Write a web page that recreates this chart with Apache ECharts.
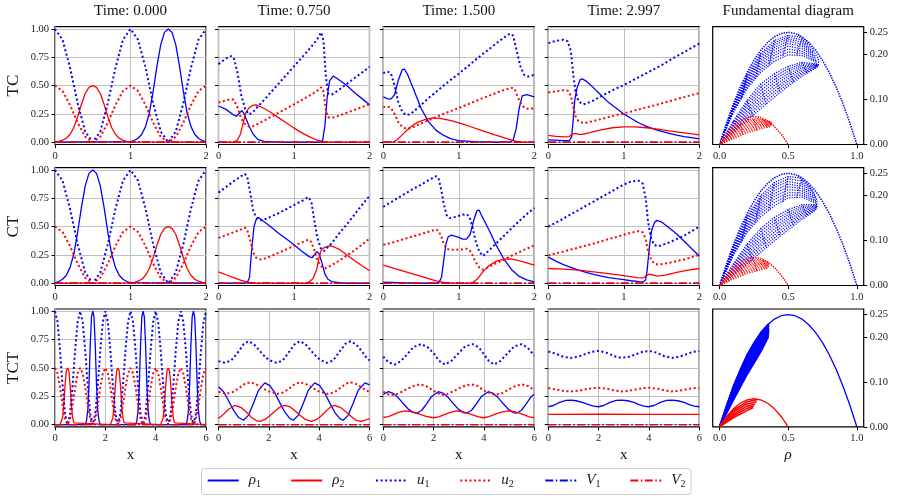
<!DOCTYPE html>
<html>
<head>
<meta charset="utf-8">
<script src="https://cdn.jsdelivr.net/npm/echarts@6/dist/echarts.min.js"></script>
<style>
  html, body { margin: 0; padding: 0; background: #fff; }
  #chart { width: 900px; height: 503px; }
</style>
</head>
<body>
<div id="chart"></div>
<script>
// ---- labels ----
const rowNames = ['TC', 'CT', 'TCT'];
const timeLabels = ['Time: 0.000', 'Time: 0.750', 'Time: 1.500', 'Time: 2.997'];
const fdTitle = 'Fundamental diagram';

// ---- TC / CT initial state (x in [0,2]) ----
const u0_1 = [[0,1],[0.1,0.905],[0.2,0.655],[0.3,0.345],[0.4,0.095],[0.5,0],[0.6,0.095],[0.7,0.345],[0.8,0.655],[0.9,0.905],
  [1,1],[1.1,0.905],[1.2,0.655],[1.3,0.345],[1.4,0.095],[1.5,0],[1.6,0.095],[1.7,0.345],[1.8,0.655],[1.9,0.905],[2,1]];
const u0_2 = [[0,0.5],[0.1,0.452],[0.2,0.327],[0.3,0.173],[0.4,0.048],[0.5,0],[0.6,0.048],[0.7,0.173],[0.8,0.327],[0.9,0.452],
  [1,0.5],[1.1,0.452],[1.2,0.327],[1.3,0.173],[1.4,0.048],[1.5,0],[1.6,0.048],[1.7,0.173],[1.8,0.327],[1.9,0.452],[2,0.5]];

const tc0_r1 = [[0,0],[1,0.005],[1.05,0.015],[1.1,0.035],[1.15,0.07],[1.2,0.14],[1.25,0.26],[1.3,0.45],[1.35,0.67],[1.4,0.86],[1.45,0.97],[1.5,1],
  [1.55,0.97],[1.6,0.86],[1.65,0.67],[1.7,0.45],[1.75,0.26],[1.8,0.14],[1.85,0.07],[1.9,0.035],[1.95,0.015],[2,0.005]];
const tc0_r2 = [[0,0.003],[0.05,0.008],[0.1,0.018],[0.15,0.035],[0.2,0.07],[0.25,0.13],[0.3,0.225],[0.35,0.335],[0.4,0.43],[0.45,0.485],[0.5,0.5],
  [0.55,0.485],[0.6,0.43],[0.65,0.335],[0.7,0.225],[0.75,0.13],[0.8,0.07],[0.85,0.035],[0.9,0.018],[0.95,0.008],[1,0.003],[2,0]];

const tc1_r1 = [[0,0.32],[0.1,0.29],[0.2,0.24],[0.24,0.23],[0.28,0.26],[0.31,0.28],[0.34,0.25],[0.4,0.15],[0.46,0.07],[0.52,0.025],[0.6,0.008],[0.8,0],
  [1.35,0],[1.38,0.02],[1.41,0.15],[1.44,0.4],[1.47,0.54],[1.52,0.585],[1.6,0.55],[1.7,0.5],[1.8,0.44],[1.9,0.385],[2,0.33]];
const tc1_r2 = [[0,0],[0.2,0],[0.25,0.02],[0.29,0.07],[0.33,0.18],[0.36,0.26],[0.4,0.3],[0.45,0.325],[0.5,0.33],[0.6,0.3],[0.7,0.26],[0.8,0.215],
  [0.9,0.17],[1,0.125],[1.1,0.085],[1.2,0.05],[1.3,0.02],[1.36,0.008],[1.42,0],[2,0]];
const tc1_u1 = [[0,0.69],[0.1,0.74],[0.17,0.76],[0.2,0.75],[0.25,0.62],[0.3,0.42],[0.35,0.3],[0.4,0.245],[0.45,0.26],[0.5,0.3],[0.6,0.37],[0.7,0.445],
  [0.8,0.52],[0.9,0.595],[1,0.67],[1.1,0.745],[1.2,0.82],[1.3,0.9],[1.36,0.97],[1.39,0.9],[1.42,0.6],[1.45,0.43],[1.5,0.42],[1.6,0.465],[1.7,0.515],
  [1.8,0.565],[1.9,0.615],[2,0.665]];
const tc1_u2 = [[0,0.35],[0.1,0.37],[0.17,0.38],[0.2,0.375],[0.25,0.31],[0.3,0.21],[0.35,0.16],[0.4,0.14],[0.45,0.14],[0.5,0.155],[0.6,0.19],[0.7,0.225],
  [0.8,0.262],[0.9,0.298],[1,0.335],[1.1,0.372],[1.2,0.41],[1.3,0.45],[1.36,0.485],[1.39,0.45],[1.42,0.3],[1.45,0.22],[1.5,0.215],[1.6,0.235],
  [1.7,0.26],[1.8,0.285],[1.9,0.31],[2,0.335]];

const tc2_r1 = [[0,0.4],[0.05,0.385],[0.1,0.38],[0.15,0.42],[0.2,0.55],[0.25,0.64],[0.28,0.645],[0.32,0.6],[0.4,0.47],[0.5,0.3],[0.6,0.18],[0.7,0.105],
  [0.8,0.06],[0.9,0.03],[1,0.015],[1.2,0.005],[1.5,0],[1.68,0],[1.72,0.02],[1.76,0.12],[1.8,0.3],[1.84,0.41],[1.9,0.42],[2,0.4]];
const tc2_r2 = [[0,0],[0.12,0],[0.18,0.02],[0.25,0.065],[0.35,0.13],[0.45,0.175],[0.55,0.2],[0.65,0.215],[0.75,0.21],[0.9,0.19],[1.1,0.15],[1.3,0.105],
  [1.5,0.06],[1.65,0.03],[1.75,0.01],[1.82,0],[2,0]];
const tc2_u1 = [[0,0.61],[0.05,0.625],[0.1,0.61],[0.15,0.5],[0.2,0.35],[0.25,0.27],[0.3,0.24],[0.35,0.245],[0.4,0.27],[0.5,0.33],[0.6,0.39],[0.7,0.445],
  [0.8,0.5],[0.9,0.555],[1,0.605],[1.1,0.66],[1.2,0.715],[1.3,0.77],[1.4,0.82],[1.5,0.875],[1.6,0.925],[1.68,0.96],[1.72,0.94],[1.77,0.8],
  [1.82,0.66],[1.87,0.59],[1.92,0.58],[2,0.595]];
const tc2_u2 = [[0,0.31],[0.05,0.315],[0.1,0.305],[0.15,0.25],[0.2,0.175],[0.25,0.135],[0.3,0.12],[0.35,0.122],[0.4,0.135],[0.5,0.165],[0.6,0.195],
  [0.7,0.222],[0.8,0.25],[0.9,0.277],[1,0.302],[1.1,0.33],[1.2,0.357],[1.3,0.385],[1.4,0.41],[1.5,0.437],[1.6,0.462],[1.7,0.48],[1.74,0.47],
  [1.78,0.4],[1.83,0.33],[1.88,0.3],[1.93,0.295],[2,0.3]];

const tc3_r1 = [[0,0.02],[0.1,0.018],[0.2,0.015],[0.28,0.015],[0.31,0.05],[0.33,0.2],[0.35,0.37],[0.38,0.48],[0.42,0.55],[0.45,0.56],[0.5,0.54],
  [0.6,0.48],[0.7,0.415],[0.8,0.35],[0.9,0.3],[1,0.25],[1.1,0.21],[1.2,0.17],[1.3,0.14],[1.4,0.115],[1.5,0.095],[1.6,0.078],[1.7,0.063],
  [1.8,0.05],[1.9,0.04],[2,0.03]];
const tc3_r2 = [[0,0.06],[0.1,0.052],[0.2,0.048],[0.28,0.05],[0.31,0.07],[0.33,0.08],[0.36,0.078],[0.4,0.07],[0.45,0.07],[0.55,0.085],[0.7,0.11],
  [0.85,0.128],[1,0.135],[1.15,0.135],[1.3,0.128],[1.45,0.115],[1.6,0.1],[1.8,0.083],[2,0.065]];
const tc3_u1 = [[0,0.875],[0.1,0.895],[0.2,0.905],[0.26,0.89],[0.3,0.8],[0.33,0.6],[0.36,0.45],[0.4,0.36],[0.46,0.335],[0.5,0.34],[0.6,0.37],
  [0.7,0.405],[0.8,0.44],[0.9,0.475],[1,0.505],[1.1,0.54],[1.2,0.575],[1.3,0.61],[1.4,0.645],[1.5,0.68],[1.6,0.72],[1.7,0.76],[1.8,0.795],
  [1.9,0.835],[2,0.87]];
const tc3_u2 = [[0,0.44],[0.1,0.45],[0.2,0.46],[0.26,0.455],[0.3,0.41],[0.33,0.31],[0.36,0.23],[0.4,0.185],[0.46,0.17],[0.5,0.172],[0.6,0.188],
  [0.7,0.205],[0.8,0.222],[0.9,0.24],[1,0.255],[1.1,0.272],[1.2,0.29],[1.3,0.308],[1.4,0.325],[1.5,0.343],[1.6,0.362],[1.7,0.38],[1.8,0.398],
  [1.9,0.417],[2,0.435]];

// ---- CT ----
const ct0_r1 = [[0,0.005],[0.05,0.015],[0.1,0.035],[0.15,0.07],[0.2,0.14],[0.25,0.26],[0.3,0.45],[0.35,0.67],[0.4,0.86],[0.45,0.97],[0.5,1],
  [0.55,0.97],[0.6,0.86],[0.65,0.67],[0.7,0.45],[0.75,0.26],[0.8,0.14],[0.85,0.07],[0.9,0.035],[0.95,0.015],[1,0.005],[2,0]];
const ct0_r2 = [[0,0],[1,0.003],[1.05,0.008],[1.1,0.018],[1.15,0.035],[1.2,0.07],[1.25,0.13],[1.3,0.225],[1.35,0.335],[1.4,0.43],[1.45,0.485],[1.5,0.5],
  [1.55,0.485],[1.6,0.43],[1.65,0.335],[1.7,0.225],[1.75,0.13],[1.8,0.07],[1.85,0.035],[1.9,0.018],[1.95,0.008],[2,0.003]];

const ct1_r1 = [[0,0],[0.35,0],[0.38,0.005],[0.41,0.05],[0.44,0.3],[0.47,0.5],[0.5,0.565],[0.53,0.58],[0.6,0.545],[0.7,0.495],[0.8,0.44],[0.9,0.39],
  [1,0.34],[1.1,0.285],[1.2,0.235],[1.24,0.225],[1.28,0.26],[1.3,0.28],[1.33,0.265],[1.37,0.18],[1.41,0.08],[1.45,0.035],[1.5,0.015],[1.6,0.005],
  [1.7,0],[2,0]];
const ct1_r2 = [[0,0.1],[0.1,0.075],[0.2,0.05],[0.3,0.025],[0.4,0.008],[0.5,0],[1.15,0],[1.2,0.01],[1.25,0.04],[1.3,0.12],[1.33,0.22],[1.36,0.29],
  [1.4,0.315],[1.47,0.33],[1.5,0.328],[1.6,0.3],[1.7,0.25],[1.8,0.2],[1.9,0.155],[2,0.11]];
const ct1_u1 = [[0,0.8],[0.1,0.85],[0.2,0.9],[0.3,0.945],[0.35,0.965],[0.38,0.94],[0.42,0.8],[0.46,0.64],[0.5,0.58],[0.55,0.555],[0.6,0.56],[0.7,0.59],
  [0.8,0.62],[0.9,0.655],[1,0.69],[1.1,0.725],[1.19,0.76],[1.23,0.72],[1.27,0.55],[1.31,0.4],[1.36,0.3],[1.4,0.285],[1.5,0.355],[1.6,0.44],
  [1.7,0.52],[1.8,0.605],[1.9,0.69],[2,0.77]];
const ct1_u2 = [[0,0.4],[0.1,0.425],[0.2,0.45],[0.3,0.475],[0.35,0.49],[0.38,0.47],[0.42,0.38],[0.46,0.27],[0.5,0.225],[0.55,0.21],[0.6,0.215],
  [0.7,0.24],[0.8,0.27],[0.9,0.3],[1,0.33],[1.1,0.36],[1.19,0.385],[1.23,0.365],[1.27,0.29],[1.31,0.2],[1.36,0.15],[1.41,0.13],[1.5,0.16],
  [1.6,0.2],[1.7,0.245],[1.8,0.29],[1.9,0.34],[2,0.395]];

const ct2_r1 = [[0,0.01],[0.2,0.005],[0.5,0],[0.7,0],[0.74,0.01],[0.77,0.05],[0.8,0.2],[0.83,0.35],[0.86,0.41],[0.9,0.425],[1,0.405],[1.05,0.39],
  [1.1,0.39],[1.15,0.43],[1.2,0.56],[1.24,0.64],[1.27,0.645],[1.3,0.6],[1.4,0.47],[1.5,0.33],[1.6,0.21],[1.7,0.12],[1.8,0.06],[1.9,0.03],[2,0.012]];
const ct2_r2 = [[0,0.16],[0.1,0.14],[0.2,0.12],[0.3,0.1],[0.4,0.08],[0.5,0.06],[0.6,0.04],[0.7,0.02],[0.8,0.008],[0.9,0.002],[1.1,0],[1.18,0.005],
  [1.25,0.04],[1.32,0.1],[1.4,0.155],[1.5,0.195],[1.6,0.212],[1.68,0.215],[1.8,0.2],[1.9,0.18],[2,0.16]];
const ct2_u1 = [[0,0.675],[0.1,0.715],[0.2,0.755],[0.3,0.795],[0.4,0.835],[0.5,0.87],[0.6,0.91],[0.7,0.945],[0.73,0.93],[0.77,0.82],[0.8,0.7],
  [0.84,0.6],[0.88,0.575],[0.95,0.585],[1.05,0.605],[1.1,0.61],[1.14,0.59],[1.18,0.5],[1.22,0.38],[1.27,0.28],[1.32,0.24],[1.4,0.29],[1.5,0.355],
  [1.6,0.42],[1.7,0.485],[1.8,0.55],[1.9,0.61],[2,0.665]];
const ct2_u2 = [[0,0.34],[0.1,0.355],[0.2,0.375],[0.3,0.395],[0.4,0.415],[0.5,0.435],[0.6,0.455],[0.7,0.475],[0.73,0.465],[0.77,0.41],[0.8,0.35],
  [0.84,0.305],[0.88,0.295],[0.95,0.295],[1.05,0.3],[1.1,0.305],[1.14,0.295],[1.18,0.25],[1.22,0.19],[1.27,0.14],[1.32,0.12],[1.4,0.145],
  [1.5,0.178],[1.6,0.21],[1.7,0.243],[1.8,0.275],[1.9,0.305],[2,0.335]];

const ct3_r1 = [[0,0.23],[0.1,0.195],[0.2,0.165],[0.3,0.14],[0.4,0.115],[0.5,0.095],[0.6,0.078],[0.7,0.062],[0.8,0.05],[0.9,0.04],[1,0.032],
  [1.1,0.022],[1.2,0.015],[1.26,0.012],[1.29,0.03],[1.31,0.12],[1.34,0.33],[1.37,0.47],[1.41,0.54],[1.44,0.555],[1.5,0.54],[1.6,0.49],[1.7,0.435],
  [1.8,0.37],[1.9,0.305],[2,0.24]];
const ct3_r2 = [[0,0.13],[0.2,0.125],[0.4,0.115],[0.6,0.1],[0.8,0.085],[1,0.068],[1.17,0.05],[1.26,0.048],[1.3,0.065],[1.33,0.08],[1.37,0.075],
  [1.44,0.062],[1.55,0.072],[1.7,0.095],[1.85,0.115],[2,0.13]];
const ct3_u1 = [[0,0.5],[0.1,0.535],[0.2,0.57],[0.3,0.61],[0.4,0.645],[0.5,0.685],[0.6,0.72],[0.7,0.76],[0.8,0.795],[0.9,0.835],[1,0.87],[1.1,0.9],
  [1.2,0.905],[1.25,0.88],[1.29,0.75],[1.32,0.55],[1.36,0.4],[1.4,0.34],[1.45,0.325],[1.5,0.335],[1.6,0.36],[1.7,0.39],[1.8,0.42],[1.9,0.46],[2,0.5]];
const ct3_u2 = [[0,0.245],[0.1,0.263],[0.2,0.28],[0.3,0.298],[0.4,0.315],[0.5,0.333],[0.6,0.35],[0.7,0.37],[0.8,0.39],[0.9,0.408],[1,0.428],
  [1.1,0.447],[1.2,0.46],[1.25,0.45],[1.29,0.39],[1.32,0.29],[1.36,0.21],[1.4,0.175],[1.45,0.165],[1.5,0.168],[1.6,0.18],[1.7,0.195],[1.8,0.21],
  [1.9,0.23],[2,0.25]];

// ---- TCT (x in [0,6]) ----
const tct0_r1 = [[0,0],[1.2,0],[1.25,0.03],[1.3,0.12],[1.35,0.35],[1.4,0.7],[1.45,0.95],[1.5,1],[1.55,0.95],[1.6,0.7],[1.65,0.35],[1.7,0.12],[1.75,0.03],[1.8,0],
  [3.2,0],[3.25,0.03],[3.3,0.12],[3.35,0.35],[3.4,0.7],[3.45,0.95],[3.5,1],[3.55,0.95],[3.6,0.7],[3.65,0.35],[3.7,0.12],[3.75,0.03],[3.8,0],
  [5.2,0],[5.25,0.03],[5.3,0.12],[5.35,0.35],[5.4,0.7],[5.45,0.95],[5.5,1],[5.55,0.95],[5.6,0.7],[5.65,0.35],[5.7,0.12],[5.75,0.03],[5.8,0],[6,0]];
const tct0_r2 = [[0,0],[0.2,0],[0.25,0.015],[0.3,0.06],[0.35,0.175],[0.4,0.35],[0.45,0.475],[0.5,0.5],[0.55,0.475],[0.6,0.35],[0.65,0.175],[0.7,0.06],[0.75,0.015],[0.8,0],
  [2.2,0],[2.25,0.015],[2.3,0.06],[2.35,0.175],[2.4,0.35],[2.45,0.475],[2.5,0.5],[2.55,0.475],[2.6,0.35],[2.65,0.175],[2.7,0.06],[2.75,0.015],[2.8,0],
  [4.2,0],[4.25,0.015],[4.3,0.06],[4.35,0.175],[4.4,0.35],[4.45,0.475],[4.5,0.5],[4.55,0.475],[4.6,0.35],[4.65,0.175],[4.7,0.06],[4.75,0.015],[4.8,0],[6,0]];
const tct0_u1 = [[0,1],[0.1,0.905],[0.2,0.655],[0.3,0.345],[0.4,0.095],[0.5,0],[0.6,0.095],[0.7,0.345],[0.8,0.655],[0.9,0.905],
  [1,1],[1.1,0.905],[1.2,0.655],[1.3,0.345],[1.4,0.095],[1.5,0],[1.6,0.095],[1.7,0.345],[1.8,0.655],[1.9,0.905],
  [2,1],[2.1,0.905],[2.2,0.655],[2.3,0.345],[2.4,0.095],[2.5,0],[2.6,0.095],[2.7,0.345],[2.8,0.655],[2.9,0.905],
  [3,1],[3.1,0.905],[3.2,0.655],[3.3,0.345],[3.4,0.095],[3.5,0],[3.6,0.095],[3.7,0.345],[3.8,0.655],[3.9,0.905],
  [4,1],[4.1,0.905],[4.2,0.655],[4.3,0.345],[4.4,0.095],[4.5,0],[4.6,0.095],[4.7,0.345],[4.8,0.655],[4.9,0.905],
  [5,1],[5.1,0.905],[5.2,0.655],[5.3,0.345],[5.4,0.095],[5.5,0],[5.6,0.095],[5.7,0.345],[5.8,0.655],[5.9,0.905],[6,1]];
const tct0_u2 = [[0,0.5],[0.1,0.452],[0.2,0.327],[0.3,0.173],[0.4,0.048],[0.5,0],[0.6,0.048],[0.7,0.173],[0.8,0.327],[0.9,0.452],
  [1,0.5],[1.1,0.452],[1.2,0.327],[1.3,0.173],[1.4,0.048],[1.5,0],[1.6,0.048],[1.7,0.173],[1.8,0.327],[1.9,0.452],
  [2,0.5],[2.1,0.452],[2.2,0.327],[2.3,0.173],[2.4,0.048],[2.5,0],[2.6,0.048],[2.7,0.173],[2.8,0.327],[2.9,0.452],
  [3,0.5],[3.1,0.452],[3.2,0.327],[3.3,0.173],[3.4,0.048],[3.5,0],[3.6,0.048],[3.7,0.173],[3.8,0.327],[3.9,0.452],
  [4,0.5],[4.1,0.452],[4.2,0.327],[4.3,0.173],[4.4,0.048],[4.5,0],[4.6,0.048],[4.7,0.173],[4.8,0.327],[4.9,0.452],
  [5,0.5],[5.1,0.452],[5.2,0.327],[5.3,0.173],[5.4,0.048],[5.5,0],[5.6,0.048],[5.7,0.173],[5.8,0.327],[5.9,0.452],[6,0.5]];

const tct1_r1 = [[0,0.333],[0.2,0.29],[0.4,0.21],[0.6,0.125],[0.8,0.062],[0.99,0.038],[1.19,0.081],[1.39,0.187],[1.59,0.302],[1.84,0.368],
  [2.04,0.344],[2.24,0.279],[2.44,0.191],[2.64,0.108],[2.84,0.052],[2.97,0.038],[3.17,0.081],[3.37,0.187],[3.57,0.302],[3.82,0.368],
  [4.02,0.344],[4.22,0.279],[4.42,0.191],[4.62,0.108],[4.82,0.052],[4.95,0.038],[5.15,0.081],[5.35,0.187],[5.55,0.302],[5.82,0.368],[6,0.35]];
const tct1_r2 = [[0,0.053],[0.2,0.09],[0.4,0.135],[0.66,0.17],[0.9,0.15],[1.1,0.11],[1.3,0.065],[1.5,0.035],[1.65,0.027],[1.85,0.045],[2.05,0.08],
  [2.25,0.12],[2.45,0.155],[2.64,0.17],[2.85,0.155],[3.05,0.12],[3.25,0.08],[3.45,0.045],[3.69,0.027],[3.9,0.045],[4.1,0.08],[4.3,0.125],
  [4.45,0.155],[4.62,0.17],[4.85,0.15],[5.05,0.115],[5.25,0.075],[5.45,0.04],[5.66,0.027],[5.85,0.04],[6,0.052]];
const tct1_u1 = [[0,0.56],[0.25,0.545],[0.5,0.565],[0.75,0.63],[1,0.71],[1.2,0.735],[1.4,0.71],[1.6,0.66],[1.8,0.61],[2,0.57],[2.3,0.545],
  [2.55,0.565],[2.8,0.64],[3.05,0.715],[3.25,0.735],[3.45,0.71],[3.65,0.66],[3.85,0.61],[4.05,0.57],[4.3,0.545],[4.55,0.565],[4.8,0.64],
  [5.05,0.715],[5.25,0.735],[5.45,0.71],[5.65,0.66],[5.85,0.6],[6,0.565]];
const tct1_u2 = [[0,0.29],[0.3,0.272],[0.55,0.285],[0.8,0.32],[1.05,0.36],[1.25,0.373],[1.45,0.36],[1.7,0.33],[1.95,0.295],[2.35,0.27],[2.6,0.285],
  [2.85,0.325],[3.05,0.36],[3.25,0.373],[3.45,0.36],[3.7,0.33],[3.95,0.295],[4.35,0.27],[4.6,0.285],[4.85,0.325],[5.05,0.36],[5.25,0.373],
  [5.45,0.36],[5.7,0.325],[6,0.285]];

const tct2_r1 = [[0,0.265],[0.2,0.29],[0.4,0.275],[0.6,0.236],[0.8,0.183],[1,0.134],[1.2,0.105],[1.32,0.1],[1.52,0.124],[1.72,0.183],[1.92,0.248],
  [2.19,0.29],[2.39,0.275],[2.59,0.236],[2.79,0.183],[2.99,0.134],[3.19,0.105],[3.3,0.1],[3.5,0.124],[3.7,0.183],[3.9,0.248],[4.17,0.29],
  [4.37,0.275],[4.57,0.236],[4.77,0.183],[4.97,0.134],[5.17,0.105],[5.28,0.1],[5.48,0.124],[5.68,0.183],[5.88,0.248],[6,0.265]];
const tct2_r2 = [[0,0.062],[0.2,0.07],[0.4,0.088],[0.6,0.107],[0.86,0.12],[1.1,0.115],[1.3,0.103],[1.5,0.088],[1.7,0.073],[1.99,0.06],[2.2,0.068],
  [2.4,0.085],[2.6,0.103],[2.91,0.12],[3.15,0.113],[3.35,0.1],[3.55,0.085],[3.75,0.07],[3.97,0.06],[4.2,0.07],[4.4,0.087],[4.65,0.107],
  [4.97,0.12],[5.2,0.113],[5.4,0.1],[5.6,0.085],[5.8,0.068],[6,0.06]];
const tct2_u1 = [[0,0.6],[0.2,0.55],[0.45,0.53],[0.7,0.56],[0.95,0.62],[1.2,0.685],[1.5,0.71],[1.75,0.685],[2,0.63],[2.2,0.565],[2.45,0.53],
  [2.7,0.56],[2.95,0.62],[3.25,0.69],[3.55,0.71],[3.8,0.68],[4,0.62],[4.2,0.56],[4.4,0.53],[4.65,0.56],[4.9,0.62],[5.2,0.69],[5.5,0.71],
  [5.75,0.675],[6,0.61]];
const tct2_u2 = [[0,0.29],[0.25,0.26],[0.5,0.265],[0.75,0.29],[1,0.32],[1.25,0.345],[1.47,0.355],[1.7,0.34],[1.95,0.305],[2.3,0.26],[2.55,0.27],
  [2.8,0.295],[3.05,0.325],[3.3,0.348],[3.5,0.355],[3.75,0.34],[4,0.3],[4.43,0.26],[4.7,0.275],[4.95,0.305],[5.2,0.335],[5.5,0.355],
  [5.75,0.34],[6,0.305]];

const tct3_r1 = [[0,0.157],[0.2,0.168],[0.45,0.195],[0.7,0.213],[0.9,0.216],[1.1,0.21],[1.35,0.195],[1.6,0.175],[1.8,0.162],[2,0.157],[2.2,0.168],
  [2.45,0.195],[2.7,0.213],[2.92,0.216],[3.15,0.21],[3.4,0.195],[3.6,0.175],[3.8,0.162],[3.98,0.157],[4.2,0.168],[4.45,0.195],[4.7,0.213],
  [4.91,0.216],[5.15,0.21],[5.4,0.195],[5.6,0.175],[5.8,0.162],[6,0.157]];
const tct3_r2 = [[0,0.09],[2,0.091],[4,0.09],[6,0.09]];
const tct3_u1 = [[0,0.645],[0.3,0.625],[0.6,0.598],[0.88,0.588],[1.2,0.6],[1.5,0.625],[1.75,0.643],[2,0.65],[2.3,0.635],[2.6,0.605],[2.9,0.588],
  [3.2,0.598],[3.5,0.622],[3.75,0.642],[4,0.65],[4.3,0.635],[4.6,0.605],[4.9,0.588],[5.2,0.598],[5.5,0.622],[5.75,0.642],[6,0.648]];
const tct3_u2 = [[0,0.322],[0.3,0.31],[0.6,0.297],[0.88,0.292],[1.2,0.298],[1.5,0.312],[1.75,0.321],[2,0.325],[2.3,0.317],[2.6,0.302],[2.9,0.292],
  [3.2,0.298],[3.5,0.311],[3.75,0.321],[4,0.325],[4.3,0.317],[4.6,0.302],[4.9,0.292],[5.2,0.298],[5.5,0.311],[5.75,0.321],[6,0.324]];

// V1 and V2 stay at zero
const v_short = [[0,0],[2,0]];
const v_long = [[0,0],[6,0]];

// ---- fundamental diagram: (rho, flux) traces ----
const fdOuter1 = [[0,0],[0.05,0.0475],[0.1,0.09],[0.15,0.1275],[0.2,0.16],[0.25,0.1875],[0.3,0.21],[0.35,0.2275],[0.4,0.24],[0.45,0.2475],[0.5,0.25],
  [0.55,0.2475],[0.6,0.24],[0.65,0.2275],[0.7,0.21],[0.75,0.1875],[0.8,0.16],[0.85,0.1275],[0.9,0.09],[0.95,0.0475],[1,0]];
const fdOuter2 = [[0,0],[0.05,0.0225],[0.1,0.04],[0.15,0.0525],[0.2,0.06],[0.25,0.0625],[0.3,0.06],[0.35,0.0525],[0.4,0.04],[0.45,0.0225],[0.5,0]];

const fdTC_blue = [
  [[0,0],[0.1,0.087],[0.2,0.155],[0.3,0.203],[0.4,0.232],[0.5,0.243],[0.58,0.24],[0.65,0.222]],
  [[0,0],[0.1,0.085],[0.2,0.151],[0.3,0.198],[0.4,0.227],[0.5,0.239],[0.59,0.234],[0.665,0.215]],
  [[0,0],[0.1,0.083],[0.2,0.147],[0.3,0.193],[0.4,0.222],[0.5,0.235],[0.6,0.228],[0.68,0.207]],
  [[0,0],[0.1,0.081],[0.2,0.1435],[0.3,0.188],[0.4,0.2165],[0.5,0.23],[0.6,0.2235],[0.69,0.2015]],
  [[0,0],[0.1,0.079],[0.2,0.14],[0.3,0.183],[0.4,0.211],[0.5,0.225],[0.6,0.219],[0.7,0.196]],
  [[0,0],[0.1,0.077],[0.2,0.136],[0.3,0.1775],[0.4,0.205],[0.5,0.219],[0.6,0.2135],[0.705,0.192]],
  [[0,0],[0.1,0.075],[0.2,0.132],[0.3,0.172],[0.4,0.199],[0.5,0.213],[0.6,0.208],[0.71,0.188]],
  [[0,0],[0.1,0.073],[0.2,0.128],[0.3,0.1665],[0.4,0.1925],[0.5,0.2065],[0.6,0.203],[0.71,0.1855]],
  [[0,0],[0.1,0.071],[0.2,0.124],[0.3,0.161],[0.4,0.186],[0.5,0.2],[0.6,0.198],[0.71,0.183]],
  [[0,0],[0.1,0.052],[0.2,0.098],[0.3,0.135],[0.4,0.158],[0.5,0.174],[0.6,0.183],[0.71,0.18]],
  [[0,0],[0.1,0.0485],[0.2,0.0925],[0.3,0.1275],[0.4,0.1515],[0.5,0.1685],[0.6,0.1795],[0.715,0.179]],
  [[0,0],[0.1,0.045],[0.2,0.087],[0.3,0.12],[0.4,0.145],[0.5,0.163],[0.6,0.176],[0.72,0.178]],
  [[0,0],[0.1,0.0415],[0.2,0.081],[0.3,0.113],[0.4,0.1385],[0.5,0.1575],[0.6,0.172],[0.72,0.1775]],
  [[0,0],[0.1,0.038],[0.2,0.075],[0.3,0.106],[0.4,0.132],[0.5,0.152],[0.6,0.168],[0.72,0.177]],
  [[0,0],[0.1,0.035],[0.2,0.0695],[0.3,0.0995],[0.4,0.1255],[0.5,0.1465],[0.6,0.164],[0.72,0.176]],
  [[0,0],[0.1,0.032],[0.2,0.064],[0.3,0.093],[0.4,0.119],[0.5,0.141],[0.6,0.16],[0.72,0.175]],
  [[0,0],[0.1,0.029],[0.2,0.0585],[0.3,0.0865],[0.4,0.1125],[0.5,0.1355],[0.6,0.156],[0.715,0.1735]],
  [[0,0],[0.1,0.026],[0.2,0.053],[0.3,0.08],[0.4,0.106],[0.5,0.13],[0.6,0.152],[0.71,0.172]],
  [[0.1,0.087],[0.09,0.071],[0.08,0.057]], [[0.2,0.155],[0.18,0.128],[0.16,0.103]],
  [[0.3,0.203],[0.28,0.174],[0.26,0.146]], [[0.4,0.232],[0.38,0.205],[0.36,0.176]],
  [[0.5,0.243],[0.48,0.222],[0.46,0.194]], [[0.6,0.235],[0.58,0.22],[0.56,0.199]],
  [[0.1,0.052],[0.12,0.045],[0.14,0.037]], [[0.2,0.098],[0.22,0.081],[0.24,0.064]],
  [[0.3,0.135],[0.32,0.111],[0.34,0.09]], [[0.4,0.158],[0.42,0.136],[0.44,0.116]],
  [[0.5,0.174],[0.52,0.155],[0.54,0.139]], [[0.6,0.183],[0.62,0.17],[0.64,0.159]],
  [[0.57,0.245],[0.63,0.232],[0.68,0.212],[0.72,0.19],[0.72,0.176]]
];
const fdTC_red = [
  [[0,0],[0.1,0.037],[0.2,0.055],[0.28,0.058],[0.38,0.05]],
  [[0,0],[0.1,0.034],[0.2,0.052],[0.3,0.0555],[0.38,0.0485]],
  [[0,0],[0.1,0.031],[0.2,0.049],[0.3,0.053],[0.38,0.047]],
  [[0,0],[0.1,0.028],[0.2,0.0455],[0.3,0.0505],[0.38,0.046]],
  [[0,0],[0.1,0.025],[0.2,0.042],[0.3,0.048],[0.38,0.045]],
  [[0,0],[0.1,0.022],[0.2,0.038],[0.3,0.045],[0.38,0.044]],
  [[0,0],[0.1,0.019],[0.2,0.034],[0.3,0.042],[0.38,0.043]],
  [[0,0],[0.1,0.016],[0.2,0.03],[0.3,0.0385],[0.375,0.0415]],
  [[0,0],[0.1,0.013],[0.2,0.026],[0.3,0.035],[0.37,0.04]],
  [[0.15,0.046],[0.16,0.035],[0.17,0.022]], [[0.25,0.0565],[0.26,0.0456],[0.27,0.032]],
  [[0.33,0.0556],[0.34,0.0468],[0.35,0.0385]]
];
const fdCT_blue = [
  [[0,0],[0.1,0.087],[0.2,0.154],[0.3,0.2],[0.4,0.23],[0.5,0.243],[0.58,0.24],[0.66,0.22]],
  [[0,0],[0.1,0.0845],[0.2,0.1495],[0.3,0.1945],[0.4,0.224],[0.5,0.2375],[0.59,0.233],[0.675,0.2125]],
  [[0,0],[0.1,0.082],[0.2,0.145],[0.3,0.189],[0.4,0.218],[0.5,0.232],[0.6,0.226],[0.69,0.205]],
  [[0,0],[0.1,0.0795],[0.2,0.1405],[0.3,0.183],[0.4,0.2115],[0.5,0.226],[0.6,0.221],[0.695,0.2]],
  [[0,0],[0.1,0.077],[0.2,0.136],[0.3,0.177],[0.4,0.205],[0.5,0.22],[0.6,0.216],[0.7,0.195]],
  [[0,0],[0.1,0.0745],[0.2,0.1315],[0.3,0.171],[0.4,0.1985],[0.5,0.2135],[0.6,0.211],[0.705,0.191]],
  [[0,0],[0.1,0.072],[0.2,0.127],[0.3,0.165],[0.4,0.192],[0.5,0.207],[0.6,0.206],[0.71,0.187]],
  [[0,0],[0.1,0.0695],[0.2,0.1225],[0.3,0.159],[0.4,0.185],[0.5,0.201],[0.6,0.2015],[0.71,0.1845]],
  [[0,0],[0.1,0.067],[0.2,0.118],[0.3,0.153],[0.4,0.178],[0.5,0.195],[0.6,0.197],[0.71,0.182]],
  [[0,0],[0.1,0.048],[0.2,0.092],[0.3,0.127],[0.4,0.152],[0.5,0.169],[0.6,0.18],[0.71,0.18]],
  [[0,0],[0.1,0.0445],[0.2,0.086],[0.3,0.12],[0.4,0.1455],[0.5,0.1635],[0.6,0.176],[0.71,0.179]],
  [[0,0],[0.1,0.041],[0.2,0.08],[0.3,0.113],[0.4,0.139],[0.5,0.158],[0.6,0.172],[0.71,0.178]],
  [[0,0],[0.1,0.038],[0.2,0.0745],[0.3,0.1065],[0.4,0.1325],[0.5,0.1525],[0.6,0.168],[0.71,0.1765]],
  [[0,0],[0.1,0.035],[0.2,0.069],[0.3,0.1],[0.4,0.126],[0.5,0.147],[0.6,0.164],[0.71,0.175]],
  [[0,0],[0.1,0.032],[0.2,0.0635],[0.3,0.0935],[0.4,0.1195],[0.5,0.1415],[0.6,0.16],[0.71,0.1735]],
  [[0,0],[0.1,0.029],[0.2,0.058],[0.3,0.087],[0.4,0.113],[0.5,0.136],[0.6,0.156],[0.71,0.172]],
  [[0,0],[0.1,0.0265],[0.2,0.053],[0.3,0.0805],[0.4,0.1065],[0.5,0.13],[0.6,0.1515],[0.705,0.17]],
  [[0,0],[0.1,0.024],[0.2,0.048],[0.3,0.074],[0.4,0.1],[0.5,0.124],[0.6,0.147],[0.7,0.168]],
  [[0.1,0.087],[0.09,0.069],[0.08,0.054]], [[0.2,0.154],[0.18,0.124],[0.16,0.098]],
  [[0.3,0.2],[0.28,0.169],[0.26,0.139]], [[0.4,0.23],[0.38,0.2],[0.36,0.168]],
  [[0.5,0.243],[0.48,0.217],[0.46,0.185]], [[0.6,0.235],[0.58,0.217],[0.56,0.196]],
  [[0.1,0.048],[0.12,0.042],[0.14,0.034]], [[0.2,0.092],[0.22,0.075],[0.24,0.058]],
  [[0.3,0.127],[0.32,0.105],[0.34,0.084]], [[0.4,0.152],[0.42,0.13],[0.44,0.11]],
  [[0.5,0.169],[0.52,0.15],[0.54,0.133]], [[0.6,0.18],[0.62,0.166],[0.64,0.155]],
  [[0.57,0.245],[0.63,0.23],[0.68,0.21],[0.71,0.19],[0.71,0.172]]
];
const fdCT_red = [
  [[0,0],[0.1,0.037],[0.2,0.055],[0.28,0.058],[0.36,0.052]],
  [[0,0],[0.1,0.034],[0.2,0.052],[0.29,0.0555],[0.36,0.05]],
  [[0,0],[0.1,0.031],[0.2,0.049],[0.3,0.052],[0.36,0.048]],
  [[0,0],[0.1,0.028],[0.2,0.0455],[0.3,0.0495],[0.36,0.0465]],
  [[0,0],[0.1,0.025],[0.2,0.042],[0.3,0.047],[0.36,0.045]],
  [[0,0],[0.1,0.022],[0.2,0.038],[0.3,0.044],[0.36,0.0435]],
  [[0,0],[0.1,0.019],[0.2,0.034],[0.3,0.041],[0.36,0.042]],
  [[0,0],[0.1,0.0165],[0.2,0.0305],[0.3,0.038],[0.355,0.0405]],
  [[0,0],[0.1,0.014],[0.2,0.027],[0.3,0.035],[0.35,0.039]],
  [[0.15,0.046],[0.16,0.035],[0.17,0.023]], [[0.25,0.0565],[0.26,0.045],[0.27,0.032]],
  [[0.32,0.0555],[0.33,0.046],[0.34,0.038]]
];
const fdTCT_blue = [
  [[0,0],[0.1,0.09],[0.2,0.16],[0.3,0.21],[0.36,0.23]],
  [[0,0],[0.1,0.086],[0.2,0.155],[0.3,0.205],[0.36,0.227]],
  [[0,0],[0.1,0.083],[0.2,0.151],[0.3,0.201],[0.36,0.224]],
  [[0,0],[0.1,0.08],[0.2,0.146],[0.3,0.196],[0.36,0.221]],
  [[0,0],[0.1,0.077],[0.2,0.142],[0.3,0.192],[0.36,0.218]],
  [[0,0],[0.1,0.074],[0.2,0.137],[0.3,0.187],[0.36,0.215]],
  [[0,0],[0.1,0.071],[0.2,0.133],[0.3,0.183],[0.36,0.212]],
  [[0,0],[0.1,0.068],[0.2,0.128],[0.3,0.178],[0.358,0.208]],
  [[0,0],[0.1,0.065],[0.2,0.124],[0.3,0.174],[0.357,0.205]],
  [[0,0],[0.1,0.062],[0.2,0.12],[0.3,0.17],[0.356,0.202]],
  [[0,0],[0.1,0.059],[0.2,0.116],[0.3,0.167],[0.355,0.2]]
];
const fdTCT_red = [
  [[0,0],[0.1,0.037],[0.2,0.056],[0.28,0.061]],
  [[0,0],[0.1,0.033],[0.2,0.051],[0.27,0.056]],
  [[0,0],[0.1,0.028],[0.2,0.046],[0.26,0.051]],
  [[0,0],[0.1,0.024],[0.2,0.041],[0.25,0.047]],
  [[0,0],[0.1,0.02],[0.2,0.036],[0.245,0.043]]
];

// ---- panel wiring ----
const panelData = [
  [{r1: tc0_r1, r2: tc0_r2, u1: u0_1, u2: u0_2}, {r1: tc1_r1, r2: tc1_r2, u1: tc1_u1, u2: tc1_u2},
   {r1: tc2_r1, r2: tc2_r2, u1: tc2_u1, u2: tc2_u2}, {r1: tc3_r1, r2: tc3_r2, u1: tc3_u1, u2: tc3_u2}],
  [{r1: ct0_r1, r2: ct0_r2, u1: u0_1, u2: u0_2}, {r1: ct1_r1, r2: ct1_r2, u1: ct1_u1, u2: ct1_u2},
   {r1: ct2_r1, r2: ct2_r2, u1: ct2_u1, u2: ct2_u2}, {r1: ct3_r1, r2: ct3_r2, u1: ct3_u1, u2: ct3_u2}],
  [{r1: tct0_r1, r2: tct0_r2, u1: tct0_u1, u2: tct0_u2}, {r1: tct1_r1, r2: tct1_r2, u1: tct1_u1, u2: tct1_u2},
   {r1: tct2_r1, r2: tct2_r2, u1: tct2_u1, u2: tct2_u2}, {r1: tct3_r1, r2: tct3_r2, u1: tct3_u1, u2: tct3_u2}]
];
const fdData = [[fdTC_blue, fdTC_red], [fdCT_blue, fdCT_red], [fdTCT_blue, fdTCT_red]];

// ---- styles / layout ----
const BLUE = '#0000ff', RED = '#ff0000';
const FONT = 'Liberation Serif';
const DOT = [2, 2.6];
const DASHDOT = [8, 2.5, 1.5, 2.5];
const colLeft = [55, 218.5, 383.3, 548.3, 712.7];
const colW = 151;
const rowTop = [26.7, 167.7, 309];
const rowH = 117.8;

const tickStyle = { show: true, inside: false, length: 3.5, lineStyle: { color: '#000', width: 1 } };
const labelStyle = { fontFamily: FONT, fontSize: 10.5, color: '#222', margin: 6 };
const gridLine = { show: true, lineStyle: { color: '#c0c0c0', width: 1 } };

const grids = [], xAxes = [], yAxes = [], series = [];

function curve(name, xi, yi, data, color, dash, width) {
  return {
    type: 'line', name: name, xAxisIndex: xi, yAxisIndex: yi, data: data,
    symbol: 'none', showSymbol: false, clip: false, silent: true,
    lineStyle: { color: color, width: width || 1.3, type: dash },
    itemStyle: { color: color }
  };
}

rowNames.forEach(function (rowName, r) {
  const xMax = r === 2 ? 6 : 2;
  const step = r === 2 ? 2 : 1;
  for (let c = 0; c < 4; c++) {
    const d = panelData[r][c];
    // outer frame grid holds the curves (y range -0.02..1.02)
    grids.push({ left: colLeft[c], top: rowTop[r], width: colW, height: rowH, show: true, borderColor: '#000', borderWidth: 1.2, backgroundColor: 'transparent' });
    const gFrame = grids.length - 1;
    // inner grid carries the y ticks (0..1)
    grids.push({ left: colLeft[c], top: rowTop[r] + rowH * 0.02 / 1.04, width: colW, height: rowH / 1.04 });
    const gInner = grids.length - 1;

    xAxes.push({
      gridIndex: gFrame, type: 'value', min: 0, max: xMax, interval: step,
      axisLine: { show: false, onZero: false }, axisTick: tickStyle,
      axisLabel: labelStyle, splitLine: gridLine,
      name: r === 2 ? 'x' : '', nameLocation: 'middle', nameGap: 21,
      nameTextStyle: { fontFamily: FONT, fontSize: 15, color: '#111' }
    });
    yAxes.push({ gridIndex: gFrame, type: 'value', min: -0.02, max: 1.02, show: false, axisLine: { onZero: false } });
    const fx = xAxes.length - 1, fy = yAxes.length - 1;

    xAxes.push({ gridIndex: gInner, type: 'value', min: 0, max: xMax, show: false, axisLine: { onZero: false } });
    yAxes.push({
      gridIndex: gInner, type: 'value', min: 0, max: 1, interval: 0.25,
      axisLine: { show: false, onZero: false }, axisTick: tickStyle,
      axisLabel: Object.assign({}, labelStyle, { show: c === 0, formatter: function (v) { return v.toFixed(2); } }),
      splitLine: gridLine,
      name: c === 0 ? rowName : '', nameLocation: 'middle', nameRotate: 90, nameGap: 33,
      nameTextStyle: { fontFamily: FONT, fontSize: 17, color: '#111' }
    });

    const vd = r === 2 ? v_long : v_short;
    series.push(curve('rho1', fx, fy, d.r1, BLUE, 'solid'));
    series.push(curve('rho2', fx, fy, d.r2, RED, 'solid'));
    series.push(curve('u1', fx, fy, d.u1, BLUE, DOT, 2));
    series.push(curve('u2', fx, fy, d.u2, RED, DOT, 2));
    series.push(curve('V1', fx, fy, vd, BLUE, DASHDOT));
    series.push(curve('V2', fx, fy, vd, RED, DASHDOT));
  }

  // fundamental diagram column
  grids.push({ left: colLeft[4], top: rowTop[r], width: colW, height: rowH, show: true, borderColor: '#000', borderWidth: 1.2, backgroundColor: 'transparent' });
  const gFD = grids.length - 1;
  xAxes.push({
    gridIndex: gFD, type: 'value', min: -0.05, max: 1.05,
    axisLine: { show: false, onZero: false },
    axisTick: Object.assign({}, tickStyle, { customValues: [0, 0.5, 1] }),
    axisLabel: Object.assign({}, labelStyle, { customValues: [0, 0.5, 1], formatter: function (v) { return v.toFixed(1); } }),
    splitLine: { show: false },
    name: r === 2 ? 'ρ' : '', nameLocation: 'middle', nameGap: 21,
    nameTextStyle: { fontFamily: FONT, fontSize: 15, fontStyle: 'italic', color: '#111' }
  });
  yAxes.push({
    gridIndex: gFD, type: 'value', position: 'right', min: 0, max: 0.2625,
    axisLine: { show: false, onZero: false },
    axisTick: Object.assign({}, tickStyle, { customValues: [0, 0.1, 0.2, 0.25] }),
    axisLabel: Object.assign({}, labelStyle, { customValues: [0, 0.1, 0.2, 0.25], formatter: function (v) { return v.toFixed(2); } }),
    splitLine: { show: false }
  });
  const fxi = xAxes.length - 1, fyi = yAxes.length - 1;
  const dense = r === 2;
  const fdStyle = dense ? 'solid' : [1.2, 1.3];
  const fdWidth = dense ? 1.6 : 1.2;
  const outerStyle = dense ? 'solid' : [1.4, 1.1];
  const outerWidth = dense ? 1.3 : 1.5;
  series.push(curve('fd', fxi, fyi, fdOuter1, BLUE, outerStyle, outerWidth));
  fdData[r][0].forEach(function (tr) { series.push(curve('fd', fxi, fyi, tr, BLUE, fdStyle, fdWidth)); });
  series.push(curve('fd', fxi, fyi, fdOuter2, RED, outerStyle, outerWidth));
  fdData[r][1].forEach(function (tr) { series.push(curve('fd', fxi, fyi, tr, RED, fdStyle, fdWidth)); });
});

// titles over each column
const titles = timeLabels.concat([fdTitle]).map(function (t, i) {
  return {
    text: t, left: colLeft[i] + colW / 2, top: 4, textAlign: 'center', padding: 0,
    textStyle: { fontFamily: FONT, fontSize: 15, fontWeight: 'normal', color: '#111' }
  };
});

// legend: one component per entry so spacing matches the boxed legend
const legendEntries = [
  ['rho1', 'ρ', '1', 206.7], ['rho2', 'ρ', '2', 290.3], ['u1', 'u', '1', 375],
  ['u2', 'u', '2', 459.3], ['V1', 'V', '1', 544.3], ['V2', 'V', '2', 629.3]
];
const legends = legendEntries.map(function (e) {
  return {
    left: e[3], top: 473, padding: 0, itemWidth: 31, itemHeight: 14, selectedMode: false,
    data: [e[0]],
    itemStyle: { opacity: 0 },
    formatter: function () { return '{i|' + e[1] + '}{s|' + e[2] + '}'; },
    textStyle: {
      padding: [0, 0, 0, 5],
      rich: {
        i: { fontFamily: FONT, fontStyle: 'italic', fontSize: 15, color: '#222' },
        s: { fontFamily: FONT, fontSize: 10, color: '#222', padding: [7, 0, 0, 0] }
      }
    }
  };
});

const chart = echarts.init(document.getElementById('chart'));
chart.setOption({
  animation: false,
  backgroundColor: '#fff',
  title: titles,
  legend: legends,
  graphic: [{
    type: 'rect', z: 0, silent: true,
    shape: { x: 201.5, y: 468.5, width: 489.5, height: 26, r: 3 },
    style: { fill: '#fff', stroke: '#cccccc', lineWidth: 1 }
  }],
  grid: grids,
  xAxis: xAxes,
  yAxis: yAxes,
  series: series
});
</script>
</body>
</html>
